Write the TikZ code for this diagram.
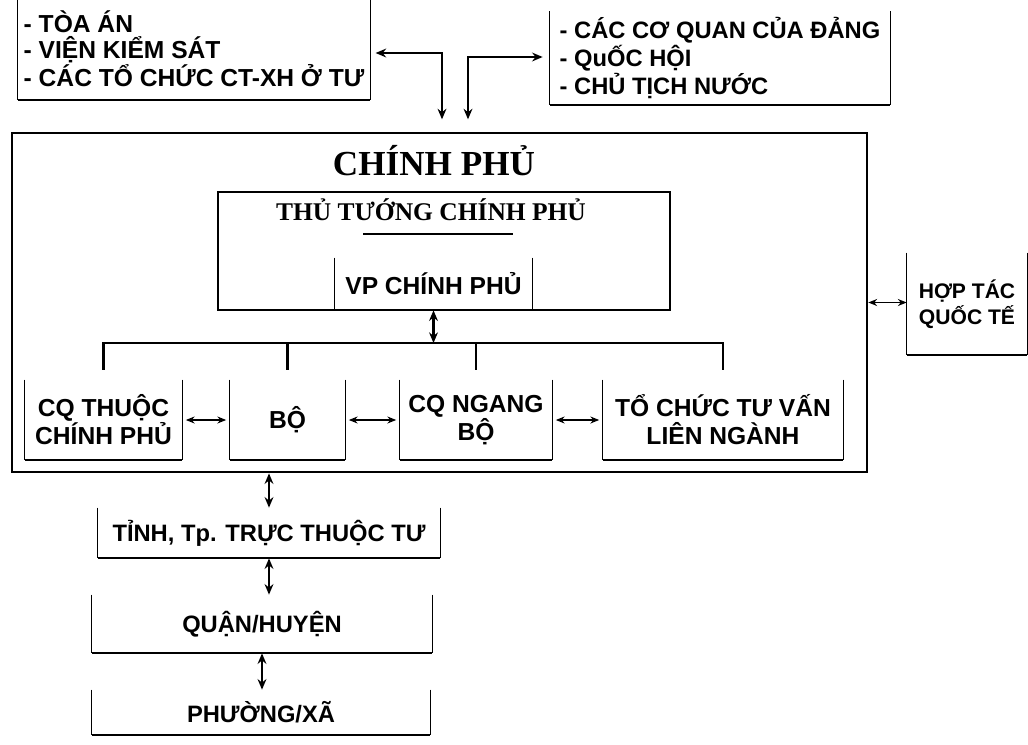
\documentclass[tikz,border=0pt]{standalone}
\usepackage{fontspec}
\setmainfont{Liberation Serif}
\setsansfont{Liberation Sans}
\usetikzlibrary{arrows.meta}

\begin{document}
\begin{tikzpicture}[x=0.02cm,y=-0.02cm,
			hop/.style={inner sep=0pt, align=center, font=\sffamily\bfseries\fontsize{14}{16}\selectfont},
			khung/.style={draw, line width=1.6pt, inner sep=0pt},
			tieu/.style={anchor=base, inner sep=0pt, font=\rmfamily\bfseries},
			mui/.style={{Stealth[length=6pt,width=5pt]}-{Stealth[length=6pt,width=5pt]}, line width=1.3pt},
			muinho/.style={{Stealth[length=5pt,width=4pt]}-{Stealth[length=5pt,width=4pt]}, line width=0.8pt}]
			\useasboundingbox (0,0) rectangle (1028,744);
			%---------------- KHỐI TRÊN ----------------
			\node[hop, align=left, minimum width=7.04cm, minimum height=2.04cm, font=\sffamily\bfseries\fontsize{14}{14.5}\selectfont] (toaan) at (194,49) {- TÒA ÁN\\- VIỆN KIỂM SÁT\\- CÁC TỔ CHỨC CT-XH Ở TƯ};
			\node[hop, align=left, minimum width=6.8cm, minimum height=1.86cm, font=\sffamily\bfseries\fontsize{13.5}{14.5}\selectfont] (dang) at (720,58) {- CÁC CƠ QUAN CỦA ĐẢNG\\- QuỐC HỘI\\- CHỦ TỊCH NƯỚC};
			%---------------- CHÍNH PHỦ ----------------
			\node[khung, minimum width=17.1cm, minimum height=6.78cm] (chinhphu) at (439.5,302.5) {};
			\node[tieu, font=\rmfamily\bfseries\fontsize{20}{24}\selectfont] (tencp) at (434,175) {CHÍNH PHỦ};
			\node[khung, line width=1.4pt, minimum width=9.04cm, minimum height=2.36cm] (thutuong) at (444,251) {};
			\node[tieu, font=\rmfamily\bfseries\fontsize{14.5}{16}\selectfont] (tentt) at (431,220) {THỦ TƯỚNG CHÍNH PHỦ};
			\draw[line width=1pt] (363,234) -- (513,234);
			\node[hop, minimum width=3.94cm, minimum height=1.04cm] (vp) at (433.5,284) {VP CHÍNH PHỦ};
			\coordinate (truc) at (430,343);
			%---------------- CÁC CƠ QUAN ----------------
			\node[hop, minimum width=3.14cm, minimum height=1.6cm] (cqthuoc) at (103.5,420) {CQ THUỘC\\CHÍNH PHỦ};
			\node[hop, minimum width=2.3cm, minimum height=1.6cm] (bo) at (287.5,420) {BỘ};
			\node[hop, minimum width=3.04cm, minimum height=1.6cm] (cqngang) at (476,420) {CQ NGANG\\BỘ};
			\node[hop, minimum width=4.8cm, minimum height=1.6cm] (tochuc) at (723,420) {TỔ CHỨC TƯ VẤN\\LIÊN NGÀNH};
			\node[hop, minimum width=2.4cm, minimum height=2.04cm, font=\sffamily\bfseries\fontsize{12}{15}\selectfont] (hoptac) at (967,304) {HỢP TÁC\\QUỐC TẾ};
			%---------------- ĐỊA PHƯƠNG ----------------
			\node[hop, minimum width=6.84cm, minimum height=1cm, font=\sffamily\bfseries\fontsize{13.5}{16}\selectfont] (tinh) at (269,533) {TỈNH, Tp. TRỰC THUỘC TƯ};
			\node[hop, minimum width=6.8cm, minimum height=1.16cm, font=\sffamily\bfseries\fontsize{13.5}{16}\selectfont] (quan) at (262,624) {QUẬN/HUYỆN};
			\node[hop, minimum width=6.76cm, minimum height=0.9cm, font=\sffamily\bfseries\fontsize{13.5}{16}\selectfont] (phuong) at (261,712.5) {PHƯỜNG/XÃ};
			% hộp hở phía trên
			\foreach \n in {toaan,dang,vp,cqthuoc,bo,cqngang,tochuc,hoptac,tinh,quan,phuong}{
				\draw[line width=0.7pt] (\n.north west) -- (\n.south west);
				\draw[line width=0.7pt] (\n.north east) -- (\n.south east);
				\draw[line width=1.3pt] (\n.south west) -- (\n.south east);
			}
			% mũi tên
			\coordinate (g1) at (442,53);
			\coordinate (g2) at (468,57);
			\draw[mui, line width=1pt, shorten <=3pt, shorten >=7pt] (toaan.east |- g1) -| (g1 |- chinhphu.north);
			\draw[mui, line width=1pt, shorten <=4pt, shorten >=7pt] (dang.west |- g2) -| (g2 |- chinhphu.north);
			\draw[mui] (vp.south) -- (vp.south |- truc);
			\draw[line width=1.4pt] ([yshift=0.2cm]cqthuoc.north) -- (cqthuoc.north |- truc) -- (tochuc.north |- truc) -- ([yshift=0.2cm]tochuc.north);
			\foreach \n in {bo,cqngang}
				\draw[line width=1.4pt] (\n.north |- truc) -- ([yshift=0.2cm]\n.north);
			\draw[muinho, shorten <=2pt, shorten >=2pt] (cqthuoc.east) -- (bo.west);
			\draw[muinho, shorten <=2pt, shorten >=2pt] (bo.east) -- (cqngang.west);
			\draw[muinho, shorten <=2pt, shorten >=2pt] (cqngang.east) -- (tochuc.west);
			\draw[muinho] (chinhphu.east) -- (chinhphu.east -| hoptac.west);
			\draw[mui] (chinhphu.south -| tinh.north) -- (tinh.north);
			\draw[mui] (tinh.south) -- (tinh.south |- quan.north);
			\draw[mui] (quan.south) -- (quan.south |- phuong.north);
		\end{tikzpicture}
\end{document}
